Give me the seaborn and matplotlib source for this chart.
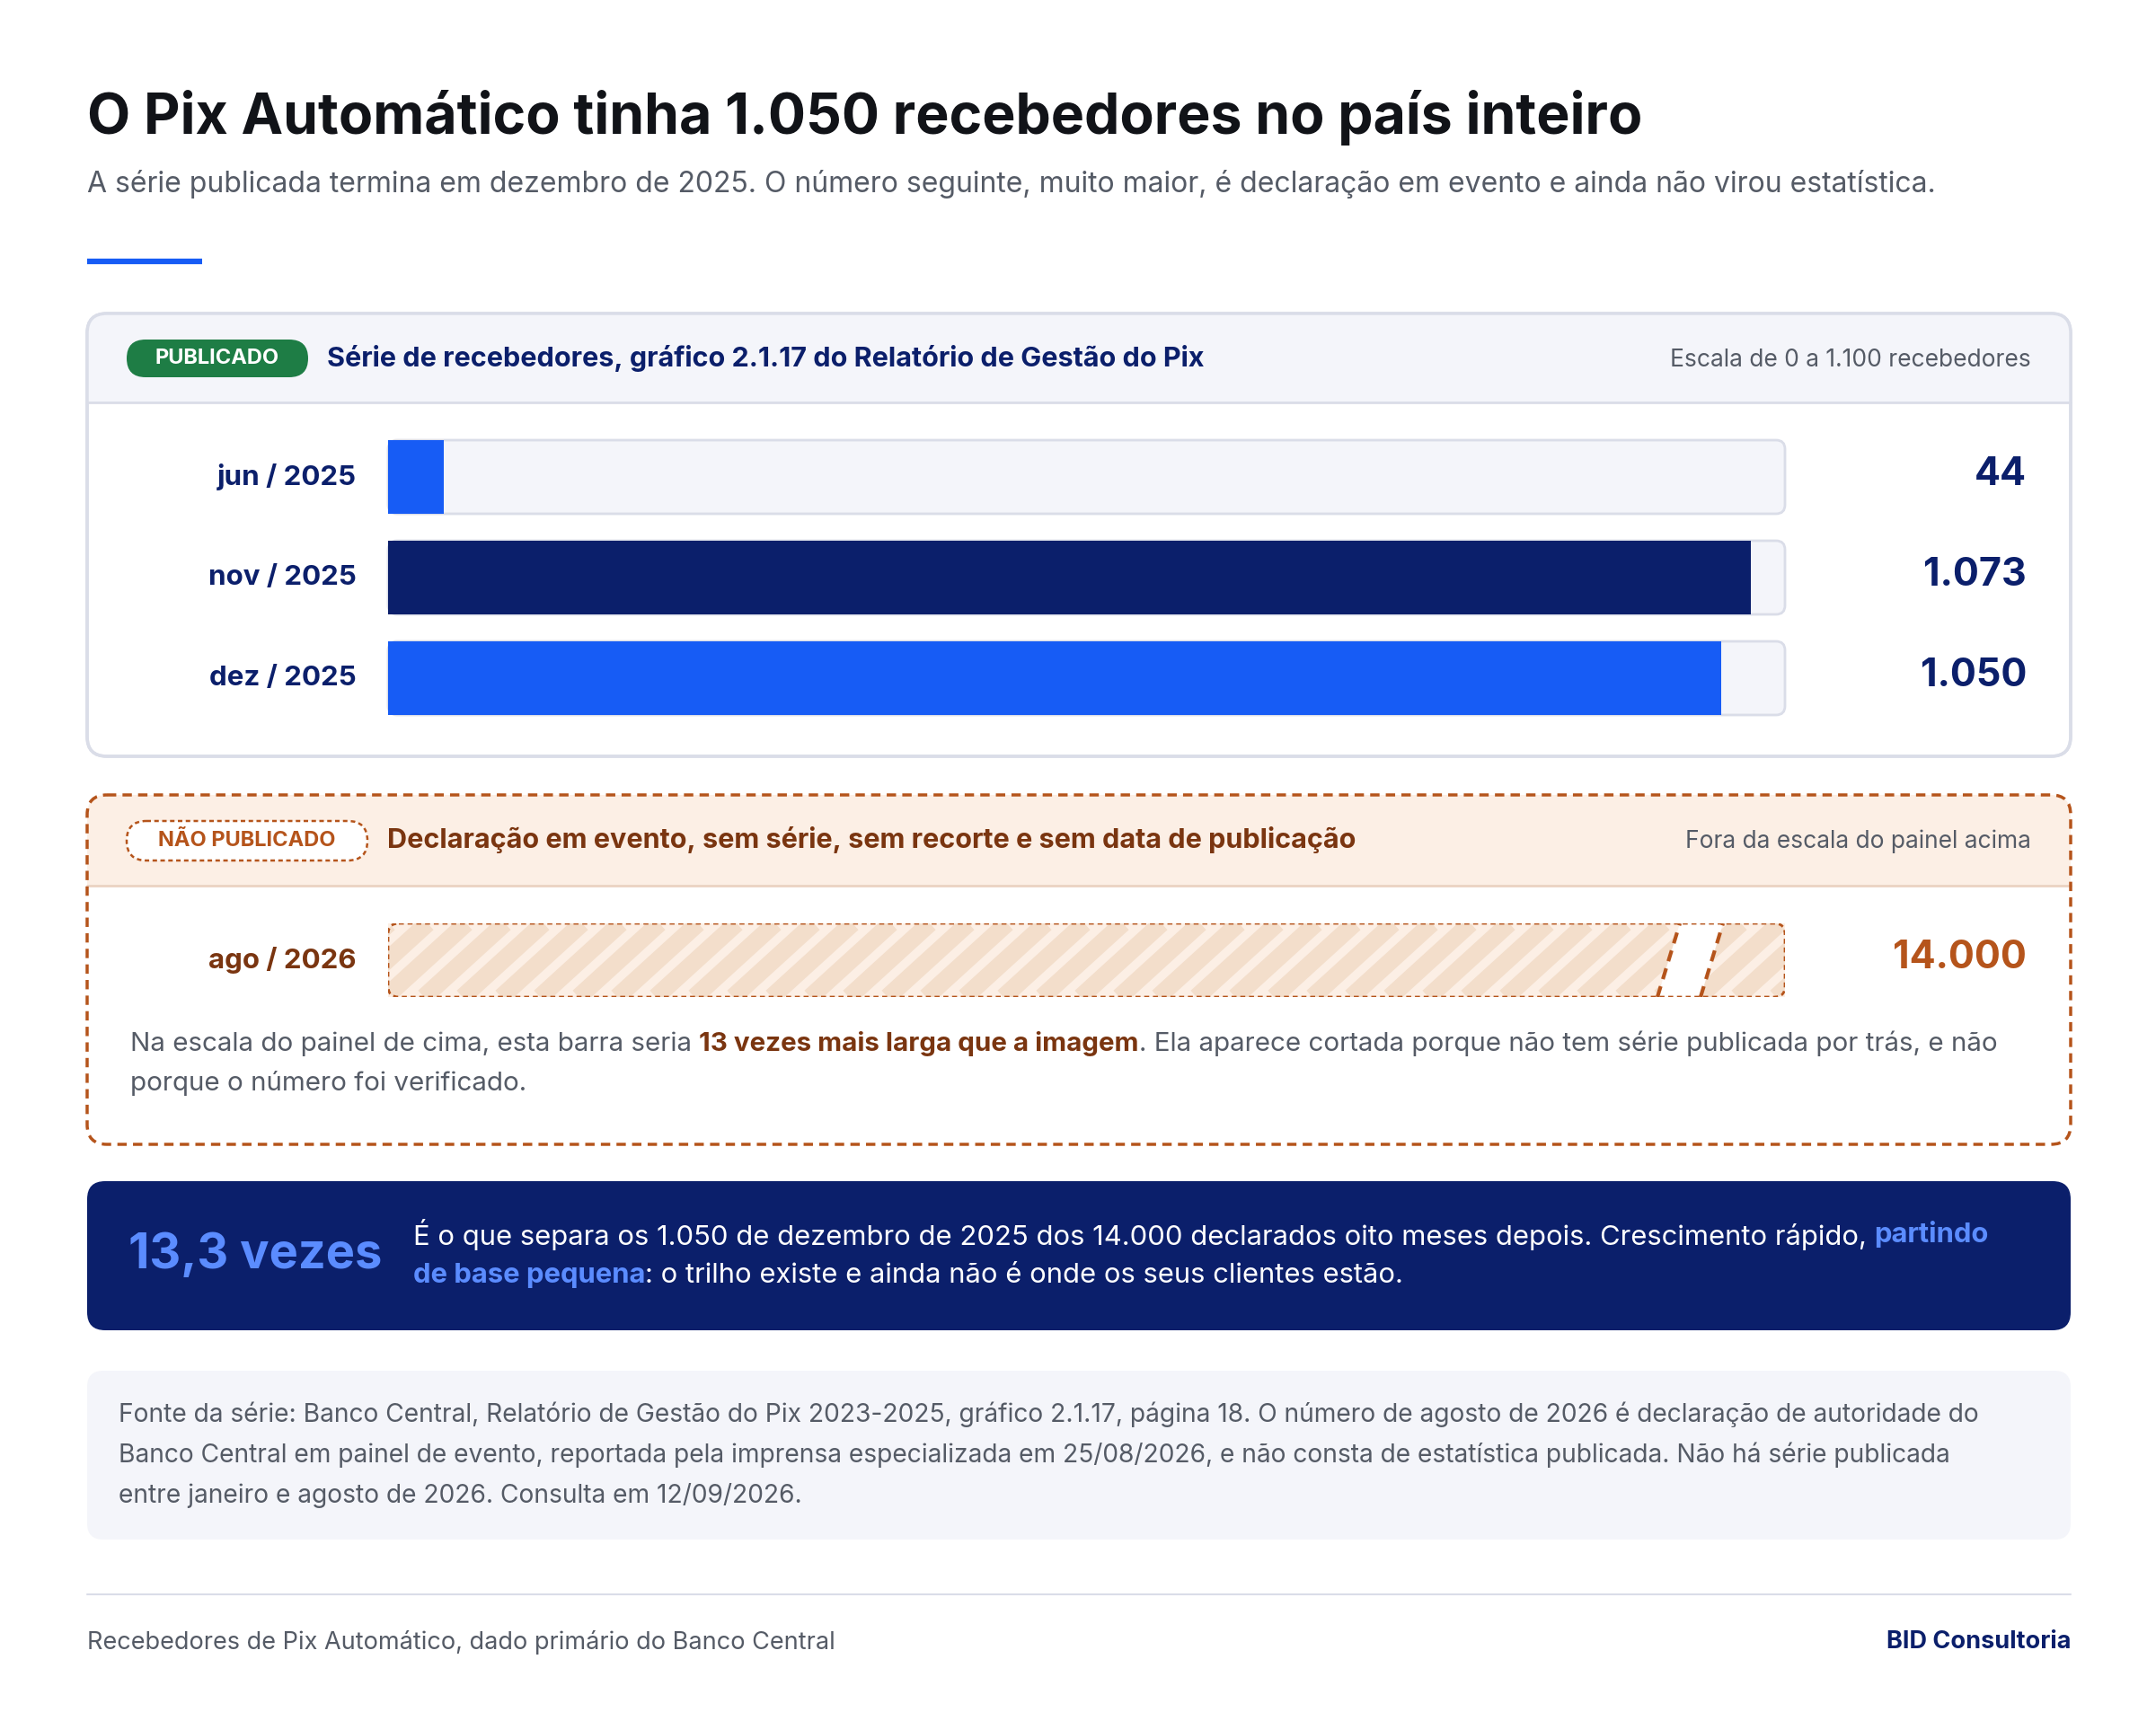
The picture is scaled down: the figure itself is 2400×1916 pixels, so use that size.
import matplotlib
matplotlib.use("Agg")
import matplotlib.pyplot as plt
import seaborn as sns
import pandas as pd
import numpy as np
from matplotlib.patches import FancyBboxPatch, Rectangle, Polygon

sns.set_theme(style="white")
plt.rcParams['font.family'] = ['Inter', 'DejaVu Sans']

months = ["jun / 2025", "nov / 2025", "dez / 2025"]
receivers = [44, 1073, 1050]
value_labels = ["44", "1.073", "1.050"]
scale_max = 1100
declared_month = "ago / 2026"
declared_value = 14000
declared_label = "14.000"

BLUE = "#175CF5"; NAVY = "#0B1F6B"; GREEN = "#1E7D45"; ORANGE = "#B5541B"
BROWN = "#7A3510"; GREY = "#555B66"; LIGHT = "#F4F5FA"; BORDER = "#DADDE8"
PEACH = "#FCEFE5"; STRIPE = "#F3DECB"

W, H = 2400, 1916
R = 2305      # panel right edge
TR = 1987     # track right edge
TL = 432
fig = plt.figure(figsize=(W/100, H/100), dpi=100)
ax = fig.add_axes([0, 0, 1, 1])
ax.set_xlim(0, W); ax.set_ylim(H, 0); ax.axis("off")
fig.patch.set_facecolor("white")

def T(x, y, s, size, color, weight="normal", ha="left", va="center", **kw):
    return ax.text(x, y, s, fontsize=size, color=color, fontweight=weight, ha=ha, va=va, **kw)

def rich(x, y, runs, size):
    r = fig.canvas.get_renderer()
    for s, color, weight in runs:
        t = T(x, y, s, size, color, weight, zorder=4)
        bb = t.get_window_extent(r)
        x += bb.width

def rbox(x0, y0, x1, y1, r, fc, ec="none", lw=0, ls="-", z=1):
    p = FancyBboxPatch((x0, y0), x1-x0, y1-y0, boxstyle=f"round,pad=0,rounding_size={r}",
                       fc=fc, ec=ec, lw=lw, ls=ls, zorder=z, mutation_aspect=1)
    ax.add_patch(p); return p

# Title
T(97, 131, "O Pix Automático tinha 1.050 recebedores no país inteiro", 45, "#111318", "bold")
T(97, 205, "A série publicada termina em dezembro de 2025. O número seguinte, muito maior, é declaração em evento e ainda não virou estatística.", 23, GREY)
ax.plot([97, 225], [291, 291], color=BLUE, lw=4.5, solid_capstyle="butt")

# Panel 1
rbox(97, 349, R, 842, 22, "white", BORDER, 2.5, z=1)
hdr = Rectangle((97, 349), R-97, 99, fc=LIGHT, ec="none", zorder=1.5)
ax.add_patch(hdr)
hdr.set_clip_path(rbox(97, 349, R, 842, 22, "none", "none", 0, z=0))
ax.plot([97, R], [448, 448], color=BORDER, lw=2, zorder=2)
rbox(97, 349, R, 842, 22, "none", BORDER, 2.5, z=3)
rbox(141, 378, 343, 420, 21, GREEN, z=3)
T(242, 399, "PUBLICADO", 17, "white", "bold", ha="center", zorder=4)
T(364, 399, "Série de recebedores, gráfico 2.1.17 do Relatório de Gestão do Pix", 22, NAVY, "bold", zorder=4)
T(R-44, 401, "Escala de 0 a 1.100 recebedores", 19, GREY, ha="right", zorder=4)

centers = [531, 643, 755]
for c, m, v in zip(centers, months, value_labels):
    rbox(TL, c-41, TR, c+41, 10, LIGHT, BORDER, 2, z=2)
    T(397, c, m, 22.5, NAVY, "bold", ha="right")
    T(R-49, c-2, v, 31, NAVY, "bold", ha="right")

df = pd.DataFrame({"mes": months, "recebedores": receivers})
bax = fig.add_axes([TL/W, 1-811/H, (TR-TL)/W, 336/H])
sns.barplot(data=df, x="recebedores", y="mes", hue="mes", palette=[BLUE, NAVY, BLUE],
            width=82/112, ax=bax, legend=False, saturation=1, edgecolor="none")
bax.set_xlim(0, scale_max); bax.set_ylim(2.5, -0.5)
bax.axis("off"); bax.patch.set_alpha(0)

# Panel 2
p2 = rbox(97, 885, R, 1274, 22, "white", "none", 0, z=1)
hdr2 = Rectangle((97, 885), R-97, 101, fc=PEACH, ec="none", zorder=1.5)
ax.add_patch(hdr2); hdr2.set_clip_path(p2)
ax.plot([97, R], [986, 986], color="#EBD3C2", lw=2, zorder=2)
rbox(97, 885, R, 1274, 22, "none", ORANGE, 2.5, ls=(0, (3, 2)), z=3)
rbox(141, 914, 409, 958, 22, "white", ORANGE, 1.8, ls=(0, (2, 1.5)), z=3)
T(275, 936, "NÃO PUBLICADO", 17, ORANGE, "bold", ha="center", zorder=4)
T(431, 935, "Declaração em evento, sem série, sem recorte e sem data de publicação", 22, BROWN, "bold", zorder=4)
T(R-44, 937, "Fora da escala do painel acima", 19, GREY, ha="right", zorder=4)
T(397, 1069, declared_month, 22.5, BROWN, "bold", ha="right")
T(R-49, 1067, declared_label, 31, ORANGE, "bold", ha="right")

dax = fig.add_axes([TL/W, 1-1110/H, (TR-TL)/W, 82/H])
sns.barplot(x=[declared_value], y=[declared_month], color=PEACH, width=1.0, ax=dax,
            saturation=1, edgecolor="none")
dax.set_xlim(0, scale_max); dax.set_ylim(0.5, -0.5)
dax.axis("off"); dax.patch.set_alpha(0)
clip = rbox(TL, 1028, TR, 1110, 12, "none", "none", 0, z=0)
for x0 in np.arange(300, 2100, 43):
    ln, = dax.plot([x0, x0+90], [1110, 1028], color=STRIPE, lw=14, transform=ax.transData,
                   solid_capstyle="butt")
    ln.set_clip_path(clip)
gx = 1845
gap = Polygon([[gx, 1110], [gx+25, 1028], [gx+73, 1028], [gx+48, 1110]], closed=True,
              fc="white", ec="none", zorder=5, transform=ax.transData)
dax.add_patch(gap)
for xa in (gx, gx+48):
    dax.plot([xa, xa+25], [1110, 1028], color=ORANGE, lw=3, ls=(0, (3, 2)),
             transform=ax.transData, zorder=6)
frame = FancyBboxPatch((TL, 1028), TR-TL, 82, boxstyle="round,pad=0,rounding_size=12",
                       fc="none", ec=ORANGE, lw=2, ls=(0, (2, 1.5)), transform=ax.transData, zorder=7)
dax.add_patch(frame)

fig.canvas.draw()
rich(145, 1162, [("Na escala do painel de cima, esta barra seria ", GREY, "normal"),
                 ("13 vezes mais larga que a imagem", BROWN, "bold"),
                 (". Ela aparece cortada porque não tem série publicada por trás, e não", GREY, "normal")], 21.3)
T(145, 1206, "porque o número foi verificado.", 21.3, GREY)

# Dark box
rbox(97, 1315, R, 1481, 20, NAVY, z=1)
T(143, 1398, "13,3 vezes", 39, "#5B8CFF", "bold", zorder=3)
rich(460, 1374, [("É o que separa os 1.050 de dezembro de 2025 dos 14.000 declarados oito meses depois. Crescimento rápido, ", "white", "normal"),
                 ("partindo", "#5B8CFF", "bold")], 22.3)
rich(460, 1420, [("de base pequena", "#5B8CFF", "bold"),
                 (": o trilho existe e ainda não é onde os seus clientes estão.", "white", "normal")], 22.3)

# Source box
rbox(97, 1526, R, 1714, 18, LIGHT, z=1)
src = ["Fonte da série: Banco Central, Relatório de Gestão do Pix 2023-2025, gráfico 2.1.17, página 18. O número de agosto de 2026 é declaração de autoridade do",
       "Banco Central em painel de evento, reportada pela imprensa especializada em 25/08/2026, e não consta de estatística publicada. Não há série publicada",
       "entre janeiro e agosto de 2026. Consulta em 12/09/2026."]
for i, s in enumerate(src):
    T(132, 1575 + 45*i, s, 20.3, GREY, zorder=3)

ax.plot([97, R], [1775, 1775], color=BORDER, lw=1.5)
T(97, 1828, "Recebedores de Pix Automático, dado primário do Banco Central", 19.5, GREY)
T(R, 1828, "BID Consultoria", 19.5, NAVY, "bold", ha="right")

fig.savefig("out.png", dpi=100)
